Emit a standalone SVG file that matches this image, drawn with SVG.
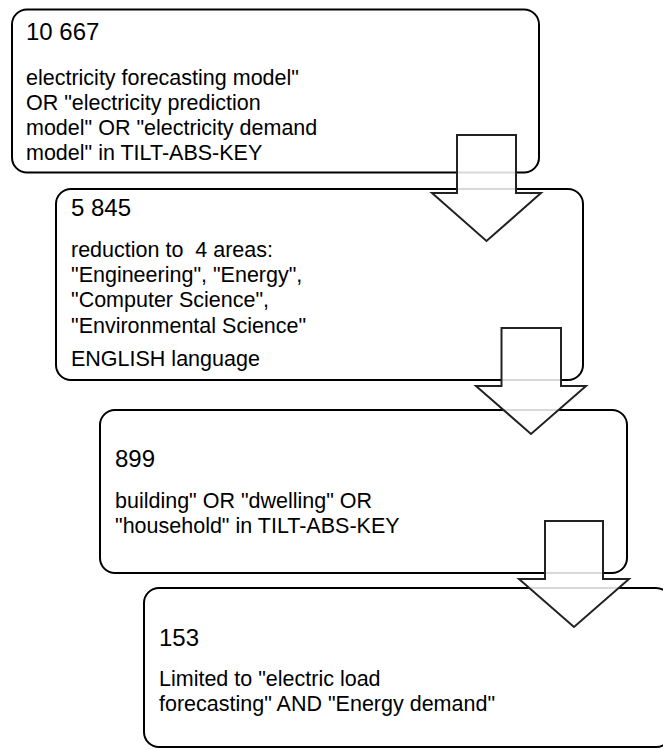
<svg xmlns="http://www.w3.org/2000/svg" width="663" height="749" viewBox="0 0 663 749">
<style>
.box{fill:#fff;stroke:#000;stroke-width:2}
.arrow{fill:#fff;fill-opacity:0.85;stroke:#222;stroke-width:2;stroke-linejoin:miter}
.num{font-family:"Liberation Sans",Arial,sans-serif;font-size:24px;fill:#000}
.txt{font-family:"Liberation Sans",Arial,sans-serif;font-size:21.5px;fill:#000}
</style>
<rect width="663" height="749" fill="#fff"/>
<g id="node1">
<rect class="box" x="12" y="9.5" width="527" height="163" rx="15"/>
<text class="num" x="26" y="40">10 667</text>
<text class="txt" x="26" y="85">electricity forecasting model"</text>
<text class="txt" x="26" y="110">OR "electricity prediction</text>
<text class="txt" x="26" y="135">model" OR "electricity demand</text>
<text class="txt" x="26" y="160">model" in TILT-ABS-KEY</text>
</g>
<g id="node2">
<rect class="box" x="56" y="189" width="527" height="191" rx="15"/>
<text class="num" x="71" y="216">5 845</text>
<text class="txt" x="71" y="257" xml:space="preserve">reduction to  4 areas:</text>
<text class="txt" x="71" y="282">"Engineering", "Energy",</text>
<text class="txt" x="71" y="307">"Computer Science",</text>
<text class="txt" x="71" y="333">"Environmental Science"</text>
<text class="txt" x="71" y="366">ENGLISH language</text>
</g>
<g id="node3">
<rect class="box" x="100" y="410" width="527" height="163" rx="15"/>
<text class="num" x="115" y="467">899</text>
<text class="txt" x="115" y="508">building" OR "dwelling" OR</text>
<text class="txt" x="115" y="533">"household" in TILT-ABS-KEY</text>
</g>
<g id="node4">
<rect class="box" x="144" y="588" width="527" height="159" rx="15"/>
<text class="num" x="159" y="646">153</text>
<text class="txt" x="159" y="686">Limited to "electric load</text>
<text class="txt" x="159" y="711">forecasting" AND "Energy demand"</text>
</g>
<g id="connectors">
<path class="arrow" d="M457,135 H516 V193 H541 L486.5,241 L432,193 H457 Z"/>
<path class="arrow" d="M501.5,328 H561 V386 H586 L531,434 L476,386 H501.5 Z"/>
<path class="arrow" d="M545,521 H603 V579 H629 L574,627 L519,579 H545 Z"/>
</g>
</svg>
